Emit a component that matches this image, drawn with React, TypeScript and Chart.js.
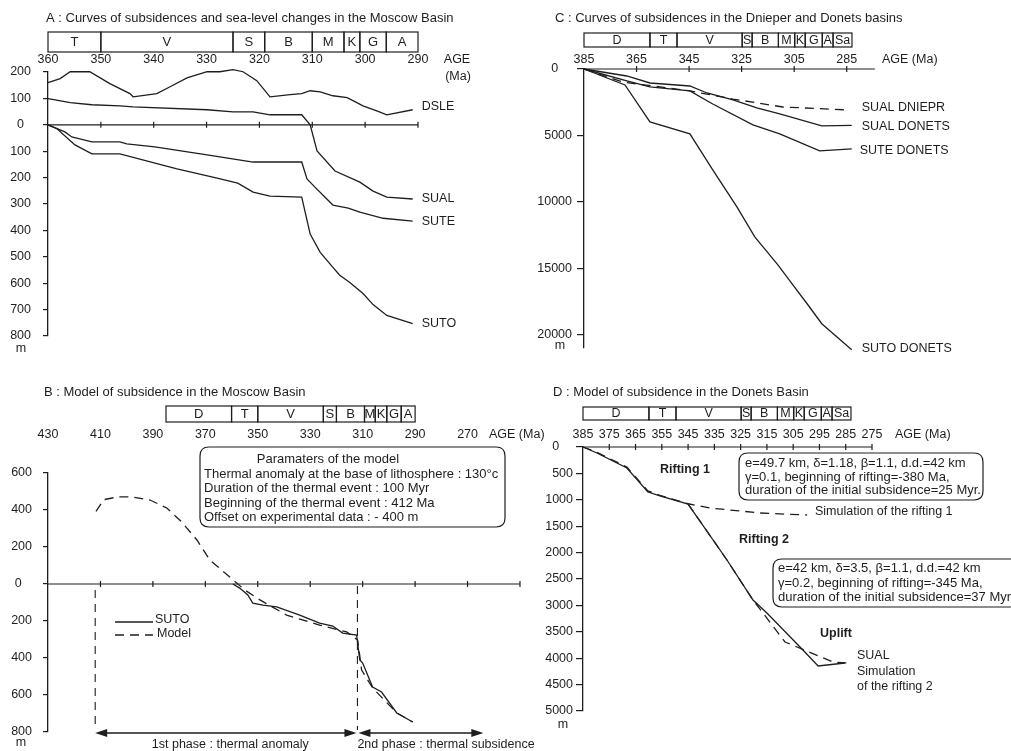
import React, { useEffect, useRef } from 'react';
import { Chart, registerables } from 'chart.js';

Chart.register(...registerables);

const W = 1011;
const H = 751;
const INK = '#1e1e1e';
const FONT = '"Liberation Sans", Arial, Helvetica, sans-serif';

// ---------------- Panel A : Moscow Basin curves ----------------
const A_X_TICKS = [360, 350, 340, 330, 320, 310, 300, 290];
const A_Y_TICKS = [200, 100, 0, -100, -200, -300, -400, -500, -600, -700, -800];
const A_STAGE_NAMES = ['T', 'V', 'S', 'B', 'M', 'K', 'G', 'A'];
const A_STAGE_BOUNDS = [360, 350, 325, 319, 310, 304, 301, 296, 290];

const A_DSLE_AGE = [360, 357.7, 355.8, 352.1, 348.3, 344.5, 343.9, 339.4, 336.9, 333.7, 329.9, 327.5, 325.0, 323.1, 320.5, 318.0, 314.2, 312.0, 310.4, 308.5, 306.1, 303.4, 300.4, 297.8, 295.9, 291.0];
const A_DSLE_VAL = [160, 175, 201, 201, 156, 118, 106, 118, 144, 178, 201, 201, 209, 201, 167, 106, 114, 118, 129, 125, 110, 103, 72, 53, 38, 57];

const A_SUAL_AGE = [360, 358.9, 355.8, 351.7, 346.4, 343.9, 329.9, 325.0, 321.2, 318.0, 312.0, 310.4, 309.1, 305.7, 301.0, 298.5, 295.9, 291.0];
const A_SUAL_VAL = [99, 95, 84, 76, 72, 68, 57, 49, 49, 38, 38, 0, -99, -175, -217, -251, -274, -281];

const A_SUTE_AGE = [360, 356.8, 355.5, 351.7, 346.4, 345.1, 339.8, 329.9, 321.2, 312.0, 311.0, 309.5, 306.1, 303.2, 301.0, 296.6, 291.0];
const A_SUTE_VAL = [0, -27, -46, -65, -65, -72, -84, -114, -141, -141, -205, -236, -304, -316, -331, -354, -365];

const A_SUTO_AGE = [360, 358.3, 354.9, 351.7, 346.4, 335.6, 328.0, 324.1, 321.2, 318.0, 312.0, 310.4, 308.5, 306.1, 304.8, 302.9, 300.4, 298.5, 295.9, 291.0];
const A_SUTO_VAL = [0, -15, -76, -110, -110, -167, -202, -221, -255, -270, -274, -414, -483, -540, -570, -597, -639, -681, -722, -753];

// ---------------- Panel B : Moscow Basin model ----------------
const B_X_TICKS = [430, 410, 390, 370, 350, 330, 310, 290, 270];
const B_X_CROSS = [410, 390, 370, 350, 330, 310, 290, 270, 250];
const B_Y_TICKS = [600, 400, 200, 0, -200, -400, -600, -800];
const B_STAGE_NAMES = ['D', 'T', 'V', 'S', 'B', 'M', 'K', 'G', 'A'];
const B_STAGE_BOUNDS = [385, 360, 350, 325, 320, 309.3, 305.2, 300.8, 295.3, 290];

const B_SUTO_AGE = [359.5, 356.9, 353.8, 351.9, 348.0, 342.8, 334.0, 326.4, 321.4, 317.6, 312.3, 311.1, 310.0, 306.2, 302.8, 297.0, 290.9];
const B_SUTO_VAL = [0, -22, -59, -103, -114, -124, -168, -211, -227, -265, -276, -411, -427, -557, -584, -697, -746];

const B_MODEL_AGE = [411.7, 408.7, 403.3, 398.0, 391.1, 384.7, 379.0, 373.2, 368.3, 360.7, 355.0, 349.2, 339.0, 326.4, 316.1, 311.9, 310.4, 306.2, 297.0, 290.9];
const B_MODEL_VAL = [392, 456, 471, 471, 454, 411, 335, 238, 130, 38, -32, -86, -168, -222, -259, -303, -465, -562, -697, -746];

const B_THERMAL_START = 412;
const B_THERMAL_END = 312;
const B_PHASE2_END = 264;

// ---------------- Panel C : Dnieper & Donets curves ----------------
const C_X_TICKS = [385, 365, 345, 325, 305, 285];
const C_Y_TICKS = [0, 5000, 10000, 15000, 20000];
const DON_STAGE_NAMES = ['D', 'T', 'V', 'S', 'B', 'M', 'K', 'G', 'A', 'Sa'];
const DON_STAGE_BOUNDS = [385, 359.9, 349.6, 324.8, 321, 311, 304.8, 300.8, 294.3, 290.2, 283];

const C_DNIEPR_AGE = [385, 370.2, 344.7, 328.3, 309.3, 284.6];
const C_DNIEPR_VAL = [0, 980, 1650, 2260, 2860, 3080];

const C_SUAL_AGE = [385, 368.7, 359.9, 344.7, 338.2, 328.3, 319.2, 310.5, 294.5, 283.1];
const C_SUAL_VAL = [0, 526, 1053, 1278, 1805, 2331, 2932, 3383, 4286, 4240];

const C_SUTE_AGE = [385, 368.7, 359.9, 344.7, 336.0, 320.7, 310.5, 295.3, 283.1];
const C_SUTE_VAL = [0, 902, 1353, 1654, 2632, 4211, 4887, 6165, 6015];

const C_SUTO_AGE = [385, 369.4, 359.9, 344.7, 336.0, 326.8, 320.0, 311.2, 305.5, 299.8, 294.5, 283.1];
const C_SUTO_VAL = [0, 1203, 3985, 4887, 7594, 10376, 12632, 14737, 16241, 17744, 19173, 21128];

// ---------------- Panel D : Donets model ----------------
const D_X_TICKS = [385, 375, 365, 355, 345, 335, 325, 315, 305, 295, 285, 275];
const D_Y_TICKS = [0, 500, 1000, 1500, 2000, 2500, 3000, 3500, 4000, 4500, 5000];

const D_SUAL_AGE = [385, 379.7, 368.3, 360.3, 355.7, 345.0, 330.2, 320.3, 315.0, 302.4, 295.5, 285.3];
const D_SUAL_VAL = [0, 114, 398, 852, 928, 1080, 2140, 2898, 3144, 3788, 4148, 4091];

const D_RIFT1_AGE = [385, 379.7, 368.3, 360.3, 355.7, 345.0, 336.7, 317.6, 299.7];
const D_RIFT1_VAL = [0, 100, 380, 830, 915, 1075, 1155, 1250, 1288];

const D_RIFT2_AGE = [345.0, 330.2, 320.3, 316.5, 308.1, 303.5, 289.8, 284.5];
const D_RIFT2_VAL = [1080, 2140, 2898, 3144, 3693, 3788, 4072, 4091];

// ---------------- helpers ----------------
const pts = (ages: number[], vals: number[]) => ages.map((a, i) => ({ x: a, y: vals[i] }));

function lineDs(data: any[], dashed = false) {
  return {
    data,
    borderColor: INK,
    borderWidth: 1.3,
    borderDash: dashed ? [9, 6] : [],
    pointRadius: 0,
    tension: 0,
    fill: false,
    clip: false as any,
  };
}

function font(size: number, bold = false) {
  return `${bold ? 'bold ' : ''}${size}px ${FONT}`;
}

function text(ctx: CanvasRenderingContext2D, s: string, x: number, y: number, size = 12.5, align: CanvasTextAlign = 'left', bold = false) {
  ctx.font = font(size, bold);
  ctx.fillStyle = INK;
  ctx.textAlign = align;
  ctx.textBaseline = 'middle';
  ctx.fillText(s, x, y);
}

function strat(ctx: CanvasRenderingContext2D, xs: any, bounds: number[], names: string[], y0: number, y1: number, size: number) {
  ctx.strokeStyle = INK;
  ctx.lineWidth = 1.2;
  ctx.setLineDash([]);
  for (let i = 0; i < names.length; i++) {
    const a = xs.getPixelForValue(bounds[i]);
    const b = xs.getPixelForValue(bounds[i + 1]);
    ctx.strokeRect(a, y0, b - a, y1 - y0);
    text(ctx, names[i], (a + b) / 2, (y0 + y1) / 2 + 0.5, size, 'center');
  }
}

function zeroAxis(ctx: CanvasRenderingContext2D, xs: any, ys: any, from: number, to: number, cross: number[], half = 3) {
  const y = ys.getPixelForValue(0);
  ctx.strokeStyle = INK;
  ctx.lineWidth = 1.2;
  ctx.setLineDash([]);
  ctx.beginPath();
  ctx.moveTo(xs.getPixelForValue(from), y);
  ctx.lineTo(xs.getPixelForValue(to), y);
  for (const v of cross) {
    const x = xs.getPixelForValue(v);
    ctx.moveTo(x, y - half);
    ctx.lineTo(x, y + half);
  }
  ctx.stroke();
}

function endLabel(ctx: CanvasRenderingContext2D, xs: any, ys: any, ages: number[], vals: number[], s: string, dx: number, dy: number) {
  const n = ages.length - 1;
  text(ctx, s, xs.getPixelForValue(ages[n]) + dx, ys.getPixelForValue(vals[n]) + dy, 12.5);
}

function roundBox(ctx: CanvasRenderingContext2D, x: number, y: number, w: number, h: number, r: number) {
  ctx.strokeStyle = INK;
  ctx.lineWidth = 1.2;
  ctx.setLineDash([]);
  ctx.beginPath();
  ctx.moveTo(x + r, y);
  ctx.lineTo(x + w - r, y);
  ctx.quadraticCurveTo(x + w, y, x + w, y + r);
  ctx.lineTo(x + w, y + h - r);
  ctx.quadraticCurveTo(x + w, y + h, x + w - r, y + h);
  ctx.lineTo(x + r, y + h);
  ctx.quadraticCurveTo(x, y + h, x, y + h - r);
  ctx.lineTo(x, y + r);
  ctx.quadraticCurveTo(x, y, x + r, y);
  ctx.closePath();
  ctx.stroke();
}

function arrowHead(ctx: CanvasRenderingContext2D, x: number, y: number, dir: number) {
  ctx.beginPath();
  ctx.moveTo(x, y);
  ctx.lineTo(x - dir * 12, y - 4);
  ctx.lineTo(x - dir * 12, y + 4);
  ctx.closePath();
  ctx.fill();
}

interface Spec {
  area: { left: number; top: number; right: number; bottom: number };
  yw: number;
  xh: number;
  x: { min: number; max: number; ticks: number[]; pad: number };
  y: { min: number; max: number; ticks: number[]; reverse: boolean; tickLen: number; pad: number; label: (v: number) => string };
  datasets: any[];
  draw: (c: any) => void;
}

function makeChart(canvas: HTMLCanvasElement, s: Spec) {
  return new Chart(canvas, {
    type: 'line',
    data: { datasets: s.datasets },
    options: {
      animation: false,
      responsive: false,
      maintainAspectRatio: false,
      events: [],
      layout: {
        padding: { left: s.area.left - s.yw, top: s.area.top - s.xh, right: W - s.area.right, bottom: H - s.area.bottom },
      },
      plugins: { legend: { display: false }, tooltip: { enabled: false } },
      scales: {
        x: {
          type: 'linear',
          position: 'top',
          min: s.x.min,
          max: s.x.max,
          reverse: true,
          afterBuildTicks: (sc: any) => { sc.ticks = s.x.ticks.map((v) => ({ value: v })); },
          afterFit: (sc: any) => { sc.height = s.xh; },
          grid: { display: false, drawTicks: false },
          border: { display: false },
          ticks: {
            color: INK,
            font: { family: FONT, size: 12.5 },
            padding: s.x.pad,
            autoSkip: false,
            maxRotation: 0,
            minRotation: 0,
            callback: (v: any) => String(v),
          },
        },
        y: {
          type: 'linear',
          position: 'left',
          min: s.y.min,
          max: s.y.max,
          reverse: s.y.reverse,
          afterBuildTicks: (sc: any) => { sc.ticks = s.y.ticks.map((v) => ({ value: v })); },
          afterFit: (sc: any) => { sc.width = s.yw; },
          grid: { display: true, drawOnChartArea: false, drawTicks: true, tickLength: s.y.tickLen, color: INK, lineWidth: 1.2 },
          border: { display: true, color: INK, width: 1.3 },
          ticks: {
            color: INK,
            font: { family: FONT, size: 12.5 },
            padding: s.y.pad,
            autoSkip: false,
            callback: (v: any) => s.y.label(Number(v)),
          },
        },
      },
    } as any,
    plugins: [{ id: 'decor', afterDatasetsDraw: (c: any) => { c.ctx.save(); s.draw(c); c.ctx.restore(); } }],
  });
}

// ---------------- panel specs ----------------
const SPEC_A: Spec = {
  area: { left: 48, top: 72, right: 418, bottom: 336 },
  yw: 48,
  xh: 24,
  x: { min: 290, max: 360, ticks: A_X_TICKS, pad: 4.5 },
  y: { min: -800, max: 200, ticks: A_Y_TICKS, reverse: false, tickLen: 5, pad: 12, label: (v) => (v === 0 ? '0  ' : String(Math.abs(v))) },
  datasets: [
    lineDs(pts(A_DSLE_AGE, A_DSLE_VAL)),
    lineDs(pts(A_SUAL_AGE, A_SUAL_VAL)),
    lineDs(pts(A_SUTE_AGE, A_SUTE_VAL)),
    lineDs(pts(A_SUTO_AGE, A_SUTO_VAL)),
  ],
  draw: (c) => {
    const ctx = c.ctx, xs = c.scales.x, ys = c.scales.y;
    text(ctx, 'A : Curves of subsidences and sea-level changes in the Moscow Basin', 46, 18, 13);
    strat(ctx, xs, A_STAGE_BOUNDS, A_STAGE_NAMES, 32, 52, 13);
    text(ctx, 'AGE', 457, 60, 12.5, 'center');
    text(ctx, '(Ma)', 458, 77, 12.5, 'center');
    zeroAxis(ctx, xs, ys, 360, 290, A_X_TICKS.slice(1));
    endLabel(ctx, xs, ys, A_DSLE_AGE, A_DSLE_VAL, 'DSLE', 9, -3);
    endLabel(ctx, xs, ys, A_SUAL_AGE, A_SUAL_VAL, 'SUAL', 9, 0);
    endLabel(ctx, xs, ys, A_SUTE_AGE, A_SUTE_VAL, 'SUTE', 9, 0);
    endLabel(ctx, xs, ys, A_SUTO_AGE, A_SUTO_VAL, 'SUTO', 9, 0);
    text(ctx, 'm', 21, 349, 12.5, 'center');
  },
};

const SPEC_B: Spec = {
  area: { left: 48, top: 473, right: 520, bottom: 732 },
  yw: 48,
  xh: 52,
  x: { min: 250, max: 430, ticks: B_X_TICKS, pad: 30.5 },
  y: { min: -800, max: 600, ticks: B_Y_TICKS, reverse: false, tickLen: 5, pad: 11, label: (v) => (v === 0 ? '0   ' : String(Math.abs(v))) },
  datasets: [
    lineDs(pts(B_SUTO_AGE, B_SUTO_VAL)),
    lineDs(pts(B_MODEL_AGE, B_MODEL_VAL), true),
  ],
  draw: (c) => {
    const ctx = c.ctx, xs = c.scales.x, ys = c.scales.y;
    text(ctx, 'B : Model of subsidence in the Moscow Basin', 44, 392, 13);
    strat(ctx, xs, B_STAGE_BOUNDS, B_STAGE_NAMES, 406, 422, 13);
    text(ctx, 'AGE (Ma)', 489, 435);
    zeroAxis(ctx, xs, ys, 430, 250, B_X_CROSS);
    // phase limits
    const xa = xs.getPixelForValue(B_THERMAL_START);
    const xb = xs.getPixelForValue(B_THERMAL_END);
    const xc = xs.getPixelForValue(B_PHASE2_END);
    const y0 = ys.getPixelForValue(0);
    const ya = 733;
    ctx.strokeStyle = INK;
    ctx.lineWidth = 1.1;
    ctx.setLineDash([8, 6]);
    ctx.beginPath();
    ctx.moveTo(xa, y0 + 6);
    ctx.lineTo(xa, ya - 6);
    ctx.moveTo(xb, y0 + 2);
    ctx.lineTo(xb, ya - 3);
    ctx.stroke();
    ctx.setLineDash([]);
    ctx.lineWidth = 1.3;
    ctx.beginPath();
    ctx.moveTo(xa + 4, ya);
    ctx.lineTo(xb - 4, ya);
    ctx.moveTo(xb + 4, ya);
    ctx.lineTo(xc - 4, ya);
    ctx.stroke();
    ctx.fillStyle = INK;
    arrowHead(ctx, xa, ya, -1);
    arrowHead(ctx, xb - 1, ya, 1);
    arrowHead(ctx, xb + 1, ya, -1);
    arrowHead(ctx, xc, ya, 1);
    text(ctx, '1st phase : thermal anomaly', (xa + xb) / 2 + 4, 745, 12.5, 'center');
    text(ctx, '2nd phase : thermal subsidence', xb, 745);
    // legend
    ctx.lineWidth = 1.3;
    ctx.beginPath();
    ctx.moveTo(115, 622);
    ctx.lineTo(153, 622);
    ctx.stroke();
    ctx.setLineDash([9, 6]);
    ctx.beginPath();
    ctx.moveTo(115, 635);
    ctx.lineTo(153, 635);
    ctx.stroke();
    ctx.setLineDash([]);
    text(ctx, 'SUTO', 155, 620);
    text(ctx, 'Model', 157, 634);
    // parameters box
    roundBox(ctx, 200, 447, 305, 80, 9);
    text(ctx, 'Paramaters of the model', 328, 459, 13, 'center');
    text(ctx, 'Thermal anomaly at the base of lithosphere : 130°c', 204, 474, 13);
    text(ctx, 'Duration of the thermal event : 100 Myr', 204, 488, 13);
    text(ctx, 'Beginning of the thermal event : 412 Ma', 204, 503, 13);
    text(ctx, 'Offset on experimental data : - 400 m', 204, 517, 13);
    text(ctx, 'm', 21, 743, 12.5, 'center');
  },
};

const SPEC_C: Spec = {
  area: { left: 584, top: 69, right: 873, bottom: 348 },
  yw: 80,
  xh: 24,
  x: { min: 275, max: 385, ticks: C_X_TICKS, pad: 2 },
  y: { min: 0, max: 21000, ticks: C_Y_TICKS, reverse: true, tickLen: 7, pad: 5, label: (v) => (v === 0 ? '0    ' : String(v)) },
  datasets: [
    lineDs(pts(C_DNIEPR_AGE, C_DNIEPR_VAL), true),
    lineDs(pts(C_SUAL_AGE, C_SUAL_VAL)),
    lineDs(pts(C_SUTE_AGE, C_SUTE_VAL)),
    lineDs(pts(C_SUTO_AGE, C_SUTO_VAL)),
  ],
  draw: (c) => {
    const ctx = c.ctx, xs = c.scales.x, ys = c.scales.y;
    text(ctx, 'C : Curves of subsidences in the Dnieper and Donets basins', 555, 18, 13);
    strat(ctx, xs, DON_STAGE_BOUNDS, DON_STAGE_NAMES, 33, 47, 12.5);
    text(ctx, 'AGE (Ma)', 882, 60);
    zeroAxis(ctx, xs, ys, 385, 274.3, C_X_TICKS.slice(1));
    endLabel(ctx, xs, ys, C_DNIEPR_AGE, C_DNIEPR_VAL, 'SUAL DNIEPR', 14, -2);
    endLabel(ctx, xs, ys, C_SUAL_AGE, C_SUAL_VAL, 'SUAL DONETS', 10, 1);
    endLabel(ctx, xs, ys, C_SUTE_AGE, C_SUTE_VAL, 'SUTE DONETS', 8, 2);
    endLabel(ctx, xs, ys, C_SUTO_AGE, C_SUTO_VAL, 'SUTO DONETS', 10, -1);
    text(ctx, 'm', 560, 346, 12.5, 'center');
  },
};

const SPEC_D: Spec = {
  area: { left: 583, top: 447, right: 872, bottom: 711 },
  yw: 80,
  xh: 24,
  x: { min: 275, max: 385, ticks: D_X_TICKS, pad: 4.5 },
  y: { min: 0, max: 5000, ticks: D_Y_TICKS, reverse: true, tickLen: 7, pad: 3, label: (v) => (v === 0 ? '0    ' : String(v)) },
  datasets: [
    lineDs(pts(D_SUAL_AGE, D_SUAL_VAL)),
    lineDs(pts(D_RIFT1_AGE, D_RIFT1_VAL), true),
    lineDs(pts(D_RIFT2_AGE, D_RIFT2_VAL), true),
  ],
  draw: (c) => {
    const ctx = c.ctx, xs = c.scales.x, ys = c.scales.y;
    text(ctx, 'D : Model of subsidence in the Donets Basin', 553, 392, 13);
    strat(ctx, xs, DON_STAGE_BOUNDS, DON_STAGE_NAMES, 407, 420, 12.5);
    text(ctx, 'AGE (Ma)', 895, 435);
    zeroAxis(ctx, xs, ys, 385, 275, D_X_TICKS.slice(1));
    roundBox(ctx, 739, 453, 244, 47, 9);
    text(ctx, 'e=49.7 km, δ=1.18, β=1.1, d.d.=42 km', 745, 463, 13);
    text(ctx, 'γ=0.1, beginning of rifting=-380 Ma,', 745, 477, 13);
    text(ctx, 'duration of the initial subsidence=25 Myr.', 745, 490, 13);
    roundBox(ctx, 773, 559, 260, 48, 9);
    text(ctx, 'e=42 km, δ=3.5, β=1.1, d.d.=42 km', 778, 568, 13);
    text(ctx, 'γ=0.2, beginning of rifting=-345 Ma,', 778, 583, 13);
    text(ctx, 'duration of the initial subsidence=37 Myr', 778, 597, 13);
    text(ctx, 'Rifting 1', 660, 470, 12.5, 'left', true);
    text(ctx, 'Rifting 2', 739, 540, 12.5, 'left', true);
    text(ctx, 'Uplift', 820, 634, 12.5, 'left', true);
    text(ctx, 'Simulation of the rifting 1', 815, 512);
    text(ctx, 'SUAL', 857, 656);
    text(ctx, 'Simulation', 857, 672);
    text(ctx, 'of the rifting 2', 857, 687);
    text(ctx, 'm', 563, 725, 12.5, 'center');
  },
};

const SPECS = [SPEC_A, SPEC_B, SPEC_C, SPEC_D];

export default function App() {
  const r0 = useRef<HTMLCanvasElement>(null);
  const r1 = useRef<HTMLCanvasElement>(null);
  const r2 = useRef<HTMLCanvasElement>(null);
  const r3 = useRef<HTMLCanvasElement>(null);
  const refs = [r0, r1, r2, r3];

  useEffect(() => {
    const charts = SPECS.map((s, i) => makeChart(refs[i].current as HTMLCanvasElement, s));
    return () => charts.forEach((ch) => ch.destroy());
  }, []);

  return (
    <div style={{ position: 'fixed', left: 0, top: 0, width: W, height: H, background: '#ffffff', overflow: 'hidden' }}>
      {refs.map((r, i) => (
        <canvas key={i} ref={r} width={W} height={H} style={{ position: 'absolute', left: 0, top: 0, width: W, height: H }} />
      ))}
    </div>
  );
}
